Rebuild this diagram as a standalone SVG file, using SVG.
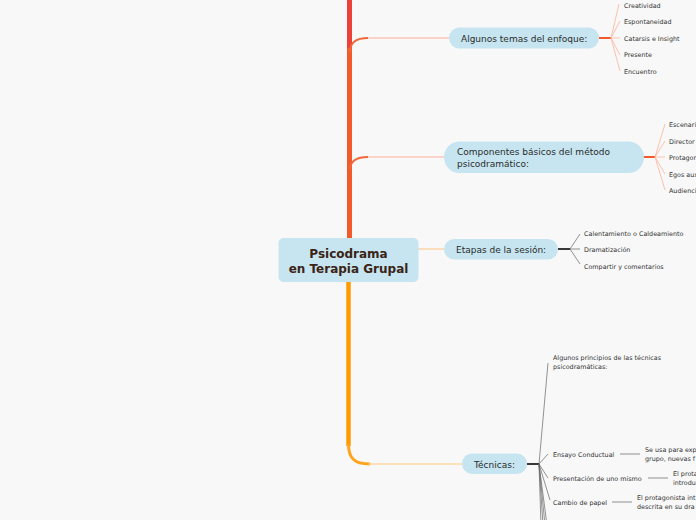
<svg xmlns="http://www.w3.org/2000/svg" width="696" height="520" viewBox="0 0 696 520">
<style>
.node{fill:#c6e5f0}
.t{font-family:"DejaVu Sans",Verdana,sans-serif;font-size:9px;fill:#2b2b2b}
.leaf{font-family:"DejaVu Sans",Verdana,sans-serif;font-size:6.4px;fill:#333}
.root{font-family:"DejaVu Sans",Verdana,sans-serif;font-size:12px;font-weight:bold;fill:#3a2416;text-anchor:middle}
.f1{stroke:#fbb39c;stroke-width:0.8;fill:none}
.f3{stroke:#666;stroke-width:0.7;fill:none}
</style>
<rect width="696" height="520" fill="#f8f8f8"/>
<g id="connectors" fill="none">
  <path d="M349.5,0 L349.5,50" stroke="#ea4139" stroke-width="5"/>
  <path d="M349.5,48 L349.5,240" stroke="#f15a2b" stroke-width="5"/>
  <path d="M350,52 C350,42 356,38 368,38" stroke="#f2683a" stroke-width="1.8"/>
  <path d="M368,38 L449,38" stroke="#fbb09a" stroke-width="1.2"/>
  <path d="M350,170 C350,161 356,157 368,157" stroke="#f2683a" stroke-width="1.8"/>
  <path d="M368,157 L444,157" stroke="#fbb09a" stroke-width="1.2"/>
  <path d="M418,249 L444,249" stroke="#fdd3aa" stroke-width="1.5"/>
  <path d="M348.5,280 L348.5,446" stroke="#ff9a00" stroke-width="4.5"/>
  <path d="M348.5,444 C348.5,458 354,464 370,464" stroke="#ffa31a" stroke-width="3"/>
  <path d="M368,464 L462,464" stroke="#ffca7a" stroke-width="1.2"/>
  <!-- branch 1 fan -->
  <path d="M599,38 L611,38" stroke="#f15a2b" stroke-width="2"/>
  <path class="f1" d="M611,38 L619,4 M611,38 L620,21 M611,38 L620,38 M611,38 L620,55 M611,38 L620,71"/>
  <!-- branch 2 fan -->
  <path d="M643,157 L655,157" stroke="#f15a2b" stroke-width="2"/>
  <path class="f1" d="M655,157 L665,124 M655,157 L665,141 M655,157 L665,157 M655,157 L665,174 M655,157 L665,190"/>
  <!-- branch 3 fan -->
  <path d="M558,249 L570,249" stroke="#222" stroke-width="1.8"/>
  <path class="f3" d="M570,249 L580,234 M570,249 L580,249 M570,249 L580,264"/>
  <!-- branch 4 fan -->
  <path d="M527,464 L539,464" stroke="#222" stroke-width="1.8"/>
  <path class="f3" d="M539,464 L548,363 M539,464 L548,454 M539,464 L548,478 M539,464 L550,500 M539,464 L541,525 M539,464 L543,525 M539,464 L545,525 M539,464 L547,525"/>
  <path class="f3" d="M620,454 L640,454 M648,478 L668,478 M612,502 L632,502"/>
</g>
<g id="root">
  <rect class="node" x="278.5" y="238" width="140" height="44" rx="5"/>
  <text class="root" x="348.5" y="258">Psicodrama</text>
  <text class="root" x="348.5" y="273">en Terapia Grupal</text>
</g>
<g id="n-temas">
  <rect class="node" x="449" y="27.5" width="150" height="21" rx="10.5"/>
  <text class="t" x="461" y="41.5">Algunos temas del enfoque:</text>
</g>
<g id="n-temas-leaves">
  <text class="leaf" x="624" y="7.5">Creatividad</text>
  <text class="leaf" x="624" y="23.5">Espontaneidad</text>
  <text class="leaf" x="624" y="40.5">Catarsis e Insight</text>
  <text class="leaf" x="624" y="56.5">Presente</text>
  <text class="leaf" x="624" y="73.5">Encuentro</text>
</g>
<g id="n-componentes">
  <rect class="node" x="444" y="141.5" width="200" height="31.5" rx="15.7"/>
  <text class="t" x="457" y="155">Componentes básicos del método</text>
  <text class="t" x="457" y="167">psicodramático:</text>
</g>
<g id="n-componentes-leaves">
  <text class="leaf" x="669" y="126.5">Escenario</text>
  <text class="leaf" x="669" y="143.5">Director</text>
  <text class="leaf" x="669" y="159.5">Protagonista</text>
  <text class="leaf" x="669" y="176.5">Egos auxiliares</text>
  <text class="leaf" x="669" y="192.5">Audiencia</text>
</g>
<g id="n-etapas">
  <rect class="node" x="444" y="239" width="114" height="20.5" rx="10.2"/>
  <text class="t" x="456" y="252.5">Etapas de la sesión:</text>
</g>
<g id="n-etapas-leaves">
  <text class="leaf" x="584" y="235.5">Calentamiento o Caldeamiento</text>
  <text class="leaf" x="584" y="251.5">Dramatización</text>
  <text class="leaf" x="584" y="268.5">Compartir y comentarios</text>
</g>
<g id="n-tecnicas">
  <rect class="node" x="462" y="453.5" width="65" height="20.5" rx="10.2"/>
  <text class="t" x="494.5" y="467.5" text-anchor="middle">Técnicas:</text>
</g>
<g id="n-tecnicas-leaves">
  <text class="leaf" x="553" y="360">Algunos principios de las técnicas</text>
  <text class="leaf" x="553" y="369">psicodramáticas:</text>
  <text class="leaf" x="553" y="456.5">Ensayo Conductual</text>
  <text class="leaf" x="645" y="452">Se usa para exp</text>
  <text class="leaf" x="645" y="460.5">grupo, nuevas f</text>
  <text class="leaf" x="553" y="480.5">Presentación de uno mismo</text>
  <text class="leaf" x="673" y="476">El prota</text>
  <text class="leaf" x="673" y="484.5">introdu</text>
  <text class="leaf" x="553" y="504.5">Cambio de papel</text>
  <text class="leaf" x="637" y="500">El protagonista int</text>
  <text class="leaf" x="637" y="508.5">descrita en su dra</text>
</g>
</svg>
